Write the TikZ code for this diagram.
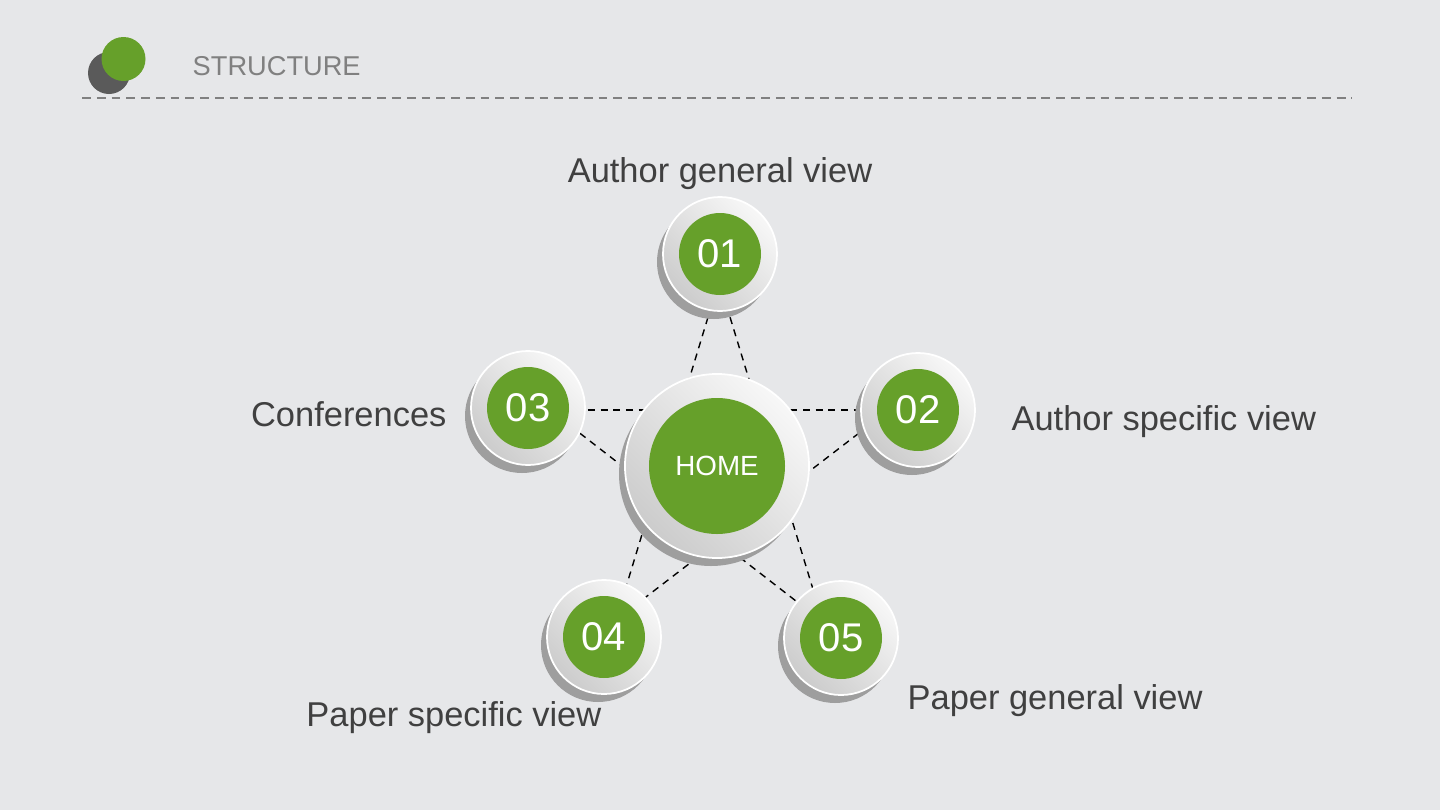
\documentclass[tikz,border=0pt]{standalone}
\usepackage{fontspec}
\setmainfont{Liberation Sans}
\usetikzlibrary{positioning, backgrounds, shadows}
\definecolor{bggray}{RGB}{230,231,233}
\definecolor{leafgreen}{RGB}{102,160,42}
\definecolor{darktext}{RGB}{64,64,64}
\definecolor{headgray}{RGB}{128,128,128}
\definecolor{dotgray}{RGB}{90,90,90}

\begin{document}
\begin{tikzpicture}[
  ring/.style={circle, inner sep=0pt, draw=white, line width=0.5pt, top color=black!3, bottom color=black!20, shading angle=-45, drop shadow={shadow xshift=-0.6mm, shadow yshift=-0.8mm, fill=black!38, opacity=1}},
  smallring/.style={ring, minimum size=1.14cm},
  bigring/.style={ring, minimum size=1.84cm},
  core/.style={circle, fill=leafgreen, text=white, inner sep=0pt},
  smallcore/.style={core, minimum size=0.82cm, font=\fontsize{11.4}{12}\selectfont},
  bigcore/.style={core, minimum size=1.36cm, font=\fontsize{7.9}{9}\selectfont},
  lbl/.style={text=darktext, font=\fontsize{9.8}{11}\selectfont, inner sep=0pt},
  link/.style={black, line width=0.4pt, dash pattern=on 2pt off 1.6pt},
  dot/.style={circle, inner sep=0pt},
]
\useasboundingbox (0,0) rectangle (14.4,8.1);
\begin{scope}[on background layer]
\fill[bggray] (0,0) rectangle (14.4,8.1);
\end{scope}

% === Header ===
\node[dot, fill=dotgray, minimum size=0.42cm] (logoback) at (1.09, 7.37) {};
\node[dot, fill=leafgreen, minimum size=0.44cm] (logofront) at (1.235, 7.51) {};
\node[anchor=west, text=headgray, inner sep=0pt, font=\fontsize{7.75}{9}\selectfont] (title) at (1.92, 7.44) {STRUCTURE};
\draw[headgray, line width=0.45pt, dash pattern=on 2.5pt off 1.7pt] (0.82, 7.12) -- (13.52, 7.12);

% === Centre ===
\node[bigring] (home) at (7.17, 3.44) {};
\node[bigcore] (homecore) at (home) {HOME};

% === Outer nodes ===
\node[smallring] (n1) at (7.20, 5.56) {};
\node[smallcore] (c1) at (n1) {01};
\node[smallring] (n2) at (9.18, 4.00) {};
\node[smallcore] (c2) at (n2) {02};
\node[smallring] (n3) at (5.28, 4.02) {};
\node[smallcore] (c3) at (n3) {03};
\node[smallring] (n4) at (6.04, 1.73) {};
\node[smallcore] (c4) at (n4) {04};
\node[smallring] (n5) at (8.41, 1.72) {};
\node[smallcore] (c5) at (n5) {05};

% labels
\node[lbl, above=0.06cm of n1] (t1) {Author general view};
\node[lbl, right=0.35cm of n2, yshift=-0.12cm] (t2) {Author specific view};
\node[lbl, left=0.23cm of n3, yshift=-0.06cm] (t3) {Conferences};
\node[lbl, anchor=north east] (t4) at ([xshift=-0.02cm, yshift=-0.06cm]n4.south) {Paper specific view};
\node[lbl, anchor=north west] (t5) at ([xshift=0.25cm, yshift=-0.05cm]n5.south east) {Paper general view};

% star points, pulled in towards the centre
\coordinate (s1) at ([shift={(-0.01,-0.27)}]n1.center);
\coordinate (s2) at ([shift={(-0.29,0)}]n2.center);
\coordinate (s3) at ([shift={(0.22,-0.02)}]n3.center);
\coordinate (s4) at ([shift={(0.12,0.17)}]n4.center);
\coordinate (s5) at ([shift={(-0.18,0.16)}]n5.center);

% star links
\begin{scope}[on background layer]
\draw[link] (s1) -- (s4);
\draw[link] (s1) -- (s5);
\draw[link] (s3) -- (s2);
\draw[link] (s3) -- (s5);
\draw[link] (s2) -- (s4);
\end{scope}
\end{tikzpicture}
\end{document}
